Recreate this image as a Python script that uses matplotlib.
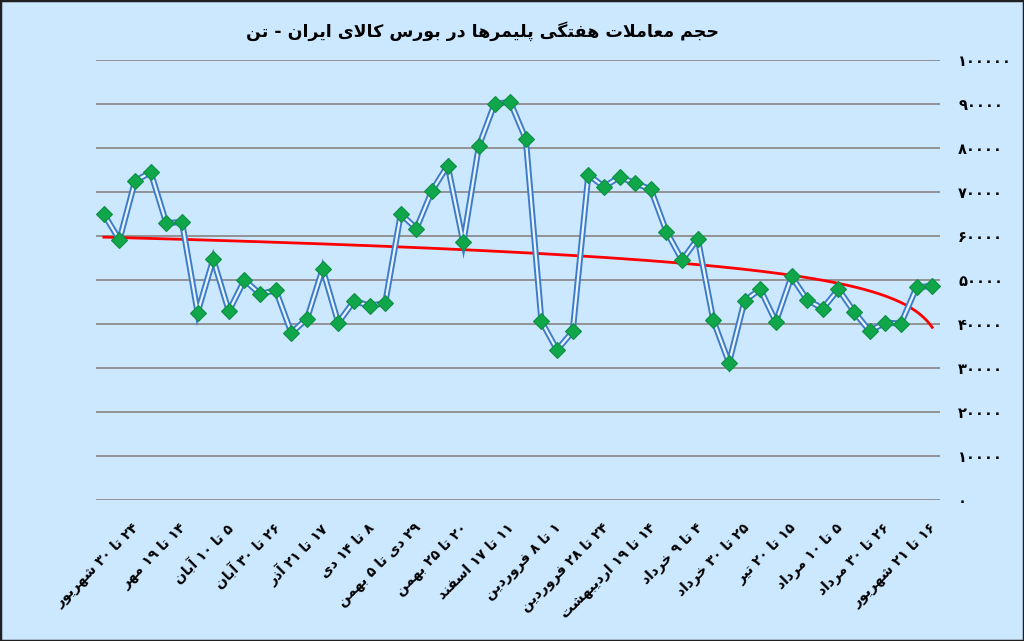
import re
import numpy as np
import matplotlib
matplotlib.use("Agg")
import matplotlib.pyplot as plt
from matplotlib.transforms import ScaledTranslation
from matplotlib.patches import Rectangle

# ---------------- data ----------------
title = "حجم معاملات هفتگی پلیمرها در بورس کالای ایران - تن"

volumes = [65000, 59100, 72500, 74500, 62900, 63200, 42600, 54700, 42900, 50000,
           46800, 47700, 38000, 41200, 52500, 40300, 45200, 44200, 44700, 65000,
           61700, 70300, 76000, 58600, 80500, 90000, 90500, 82000, 40600, 34100,
           38300, 73900, 71200, 73400, 72000, 70600, 61000, 54500, 59400, 40800,
           31200, 45300, 47900, 40500, 50800, 45500, 43500, 47900, 42800, 38400,
           40300, 40100, 48300, 48700]

week_labels = ["۲۴ تا ۳۰ شهریور", "۱۴ تا ۱۹ مهر", "۵ تا ۱۰ آبان", "۲۶ تا ۳۰ آبان",
               "۱۷ تا ۲۱ آذر", "۸ تا ۱۴ دی", "۲۹ دی تا ۵ بهمن", "۲۰ تا ۲۵ بهمن",
               "۱۱ تا ۱۷ اسفند", "۱ تا ۸ فروردین", "۲۴ تا ۲۸ فروردین",
               "۱۴ تا ۱۹ اردیبهشت", "۴ تا ۹ خرداد", "۲۵ تا ۳۰ خرداد",
               "۱۵ تا ۲۰ تیر", "۵ تا ۱۰ مرداد", "۲۶ تا ۳۰ مرداد", "۱۶ تا ۲۱ شهریور"]
label_step = 3

y_ticks = [0, 10000, 20000, 30000, 40000, 50000, 60000, 70000, 80000, 90000, 100000]

# ---------------- Persian shaping (matplotlib has no complex text layout) ----------------
def _f(start, n):
    return tuple(chr(start + k) for k in range(n))

FORMS = {
    '\u0621': _f(0xFE80, 1), '\u0622': _f(0xFE81, 2), '\u0623': _f(0xFE83, 2),
    '\u0624': _f(0xFE85, 2), '\u0625': _f(0xFE87, 2), '\u0626': _f(0xFE89, 4),
    '\u0627': _f(0xFE8D, 2), '\u0628': _f(0xFE8F, 4), '\u0629': _f(0xFE93, 2),
    '\u062A': _f(0xFE95, 4), '\u062B': _f(0xFE99, 4), '\u062C': _f(0xFE9D, 4),
    '\u062D': _f(0xFEA1, 4), '\u062E': _f(0xFEA5, 4), '\u062F': _f(0xFEA9, 2),
    '\u0630': _f(0xFEAB, 2), '\u0631': _f(0xFEAD, 2), '\u0632': _f(0xFEAF, 2),
    '\u0633': _f(0xFEB1, 4), '\u0634': _f(0xFEB5, 4), '\u0635': _f(0xFEB9, 4),
    '\u0636': _f(0xFEBD, 4), '\u0637': _f(0xFEC1, 4), '\u0638': _f(0xFEC5, 4),
    '\u0639': _f(0xFEC9, 4), '\u063A': _f(0xFECD, 4), '\u0641': _f(0xFED1, 4),
    '\u0642': _f(0xFED5, 4), '\u0643': _f(0xFED9, 4), '\u0644': _f(0xFEDD, 4),
    '\u0645': _f(0xFEE1, 4), '\u0646': _f(0xFEE5, 4), '\u0647': _f(0xFEE9, 4),
    '\u0648': _f(0xFEED, 2), '\u0649': _f(0xFEEF, 2), '\u064A': _f(0xFEF1, 4),
    '\u067E': _f(0xFB56, 4), '\u0686': _f(0xFB7A, 4), '\u0698': _f(0xFB8A, 2),
    '\u06A9': _f(0xFB8E, 4), '\u06AF': _f(0xFB92, 4), '\u06CC': _f(0xFBFC, 4),
}
LAMALEF = {'\u0622': ('\uFEF5', '\uFEF6'), '\u0623': ('\uFEF7', '\uFEF8'),
           '\u0625': ('\uFEF9', '\uFEFA'), '\u0627': ('\uFEFB', '\uFEFC')}


def shape(s):
    out = []
    i, n = 0, len(s)
    while i < n:
        c = s[i]
        if c not in FORMS:
            out.append(c)
            i += 1
            continue
        forms = FORMS[c]
        prev = s[i - 1] if i > 0 else ''
        jp = prev in FORMS and len(FORMS[prev]) == 4 and len(forms) > 1
        if c == '\u0644' and i + 1 < n and s[i + 1] in LAMALEF:
            lig = LAMALEF[s[i + 1]]
            out.append(lig[1] if jp else lig[0])
            i += 2
            continue
        nxt = s[i + 1] if i + 1 < n else ''
        jn = len(forms) == 4 and nxt in FORMS
        if jp and jn:
            out.append(forms[3])
        elif jp:
            out.append(forms[1])
        elif jn:
            out.append(forms[2])
        else:
            out.append(forms[0])
        i += 1
    vis = ''.join(out)[::-1]
    vis = re.sub(r'[0-9\u06F0-\u06F9]+', lambda m: m.group(0)[::-1], vis)
    return vis


def fa_digits(v):
    return str(int(v)).translate(str.maketrans('0123456789', '۰۱۲۳۴۵۶۷۸۹'))


# ---------------- figure ----------------
plt.rcParams['font.family'] = ['DejaVu Sans']
BG = '#CCE8FF'
W, H = 1024, 641
fig = plt.figure(figsize=(W / 100, H / 100), dpi=100, facecolor=BG)
ax = fig.add_axes([96 / W, 1 - 500 / H, 844 / W, 440 / H])
ax.set_facecolor(BG)

x = np.arange(len(volumes))
vals = np.array(volumes, dtype=float)

# gridlines
for yt in y_ticks:
    ax.axhline(yt, color='#8C8C8C', lw=1.3, zorder=1)

# logarithmic trend line (category order reversed, as in the source workbook)
xe = len(vals) - x
b, a = np.polyfit(np.log(xe), vals, 1)
xs = np.linspace(0, len(vals) - 1, 400)
ax.plot(xs, a + b * np.log(len(vals) - xs), color='#FF0000', lw=2.0, zorder=2)

# double line with diamond markers
ax.plot(x, vals, color='#3E7CC8', lw=4.4, zorder=3, solid_joinstyle='miter')
ax.plot(x, vals, color='#E8F4FF', lw=1.6, zorder=4, solid_joinstyle='miter')
ax.plot(x, vals, ls='none', marker='D', ms=8.2, mfc='#10A64A', mec='#0E8F45',
        mew=0.8, zorder=5)

ax.set_xlim(-0.5, len(vals) - 0.5)
ax.set_ylim(0, 100000)
for sp in ax.spines.values():
    sp.set_visible(False)

ax.yaxis.tick_right()
ax.set_yticks(y_ticks)
ax.set_yticklabels([fa_digits(v) for v in y_ticks], fontsize=10.5, fontweight='bold')
ax.tick_params(axis='y', length=0, pad=13)
ax.set_xticks([])

# rotated category labels
off = ScaledTranslation(28 / 100, -20 / 100, fig.dpi_scale_trans)
for k, lab in enumerate(week_labels):
    ax.text(k * label_step, 0, shape(lab), transform=ax.get_xaxis_transform() + off,
            rotation=45, rotation_mode='anchor', ha='right', va='top',
            fontsize=10, fontweight='bold', color='black')

fig.text(482 / W, 1 - 31 / H, shape(title), ha='center', va='center',
         fontsize=12.5, fontweight='bold', color='black')

fig.patches.append(Rectangle((0, 0), 1, 1, transform=fig.transFigure, fill=False,
                             edgecolor='#202020', lw=2.5))

fig.savefig('out.png', dpi=100, facecolor=BG)
